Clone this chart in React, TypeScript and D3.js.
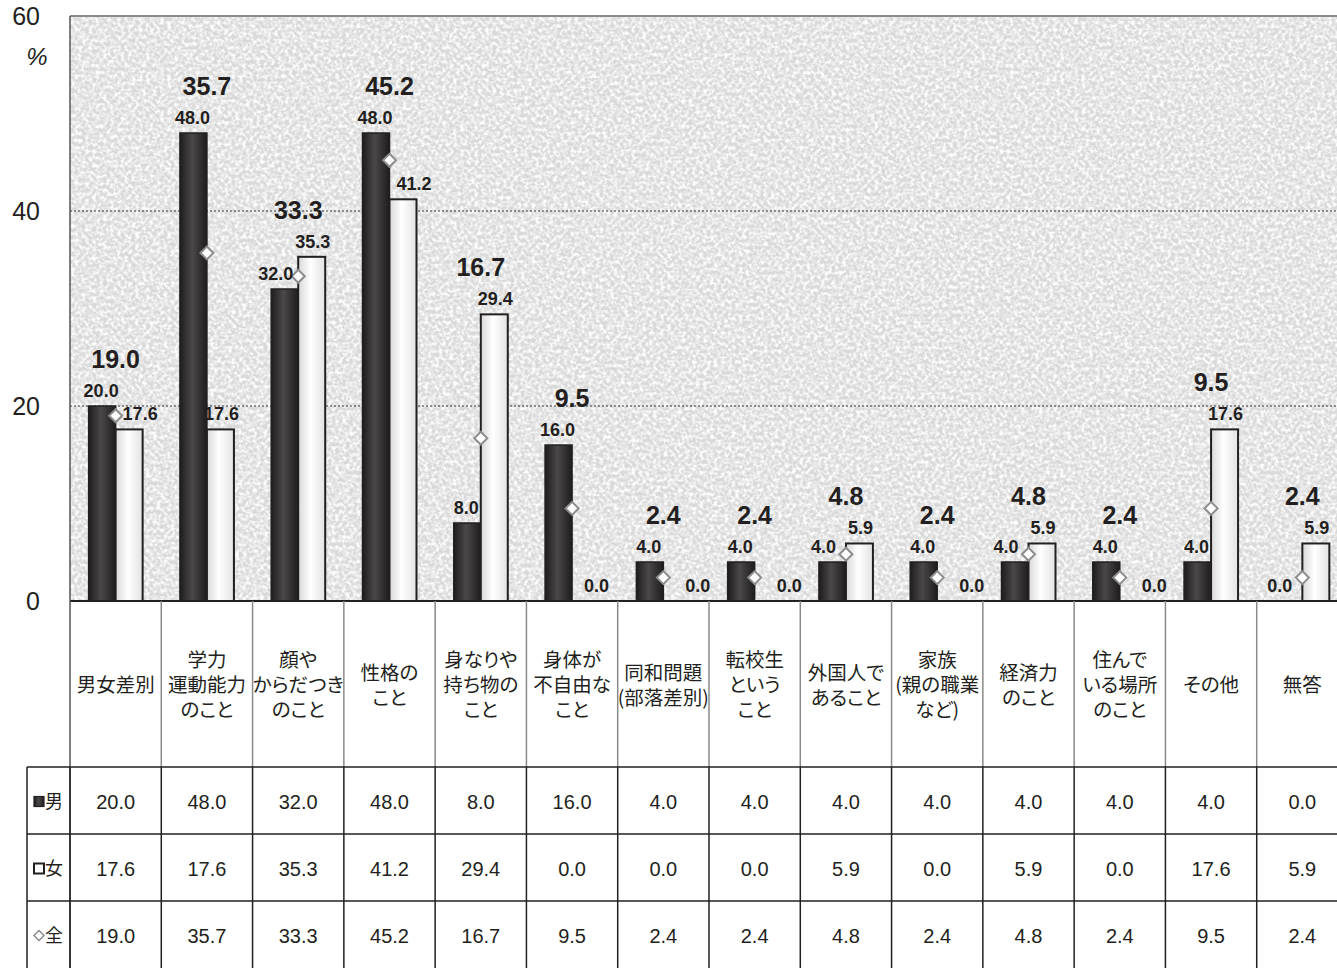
import React, { useEffect } from 'react';
import * as d3 from 'd3';

const categories = [
  '男女差別',
  '学力\n運動能力\nのこと',
  '顔や\nからだつき\nのこと',
  '性格の\nこと',
  '身なりや\n持ち物の\nこと',
  '身体が\n不自由な\nこと',
  '同和問題\n(部落差別)',
  '転校生\nという\nこと',
  '外国人で\nあること',
  '家族\n(親の職業\nなど)',
  '経済力\nのこと',
  '住んで\nいる場所\nのこと',
  'その他',
  '無答',
];
const maleValues = [20.0, 48.0, 32.0, 48.0, 8.0, 16.0, 4.0, 4.0, 4.0, 4.0, 4.0, 4.0, 4.0, 0.0];
const femaleValues = [17.6, 17.6, 35.3, 41.2, 29.4, 0.0, 0.0, 0.0, 5.9, 0.0, 5.9, 0.0, 17.6, 5.9];
const totalValues = [19.0, 35.7, 33.3, 45.2, 16.7, 9.5, 2.4, 2.4, 4.8, 2.4, 4.8, 2.4, 9.5, 2.4];
const seriesNames = ['男', '女', '全'];
const yTicks = [0, 20, 40, 60];
const gridTicks = [20, 40];

const W = 1337;
const H = 968;
const PL = 70;
const PR = 1348;
const PT = 16;
const PB = 601;
const HEADER_B = 767;
const ROW_H = 67;
const TABLE_L = 27;
const BAR_W = 27;

const fmt = d3.format('.1f');
const NUM_FONT = '"Liberation Sans", Arial, sans-serif';
const JP_FONT = '"Noto Sans CJK JP", "Noto Sans", sans-serif';

export default function App() {
  useEffect(() => {
    document.body.style.margin = '0';
    document.body.style.overflow = 'hidden';
  }, []);

  const idx = categories.map((_, i) => String(i));
  const x = d3.scaleBand<string>().domain(idx).range([PL, PR]).padding(0);
  const y = d3.scaleLinear().domain([0, 60]).range([PB, PT]);
  const step = x.bandwidth();
  const cx = (i: number) => (x(String(i)) as number) + step / 2;

  const diamond = (px: number, py: number, r: number) =>
    `M${px},${py - r}L${px + r},${py}L${px},${py + r}L${px - r},${py}Z`;

  const rowTops = [HEADER_B, HEADER_B + ROW_H, HEADER_B + ROW_H * 2];
  const rowValues = [maleValues, femaleValues, totalValues];

  return (
    <svg width={W} height={H} style={{ position: 'absolute', left: 0, top: 0, background: '#fff' }}>
      <defs>
        <filter id="noise" x="0" y="0" width="100%" height="100%">
          <feTurbulence type="fractalNoise" baseFrequency="0.28" numOctaves={2} seed={7} />
          <feColorMatrix type="matrix" values="0 0 0 0 1  0 0 0 0 1  0 0 0 0 1  2.6 0 0 0 -0.95" />
        </filter>
        <filter id="noise2" x="0" y="0" width="100%" height="100%">
          <feTurbulence type="fractalNoise" baseFrequency="0.4" numOctaves={1} seed={3} />
          <feColorMatrix type="matrix" values="0 0 0 0 0.6  0 0 0 0 0.6  0 0 0 0 0.6  2.0 0 0 0 -1.25" />
        </filter>
        <linearGradient id="darkBar" x1="0" x2="1" y1="0" y2="0">
          <stop offset="0" stopColor="#1f1c1d" />
          <stop offset="0.45" stopColor="#4a4848" />
          <stop offset="1" stopColor="#1f1c1d" />
        </linearGradient>
        <linearGradient id="lightBar" x1="0" x2="1" y1="0" y2="0">
          <stop offset="0" stopColor="#d8d8d8" />
          <stop offset="0.45" stopColor="#ffffff" />
          <stop offset="1" stopColor="#e2e2e2" />
        </linearGradient>
        <clipPath id="plotClip">
          <rect x={PL} y={PT} width={W - PL} height={PB - PT} />
        </clipPath>
      </defs>

      {/* plot background */}
      <rect x={PL} y={PT} width={W - PL} height={PB - PT} fill="#d9d9d9" />
      <rect x={PL} y={PT} width={W - PL} height={PB - PT} fill="#000" filter="url(#noise2)" />
      <rect x={PL} y={PT} width={W - PL} height={PB - PT} fill="#fff" filter="url(#noise)" />

      {/* grid */}
      {gridTicks.map((t) => (
        <line key={t} x1={PL} x2={W} y1={y(t)} y2={y(t)} stroke="#333" strokeWidth={1} strokeDasharray="2,2" />
      ))}
      <line x1={PL} x2={W} y1={PT} y2={PT} stroke="#8a8a8a" strokeWidth={2} />

      {/* y axis labels */}
      {yTicks.map((t) => (
        <text key={t} x={40} y={y(t)} dy="0.36em" textAnchor="end" fontFamily={NUM_FONT} fontSize={25} fill="#231f20">
          {t}
        </text>
      ))}
      <text x={37} y={56} dy="0.36em" textAnchor="middle" fontFamily={NUM_FONT} fontSize={24} fontStyle="italic" fill="#231f20">
        %
      </text>

      {/* bars */}
      <g clipPath="url(#plotClip)">
        {categories.map((_, i) => {
          const c = cx(i);
          const m = maleValues[i];
          const f = femaleValues[i];
          return (
            <g key={i}>
              {m > 0 && (
                <rect x={c - BAR_W} y={y(m)} width={BAR_W} height={PB - y(m)} fill="url(#darkBar)" stroke="#231f20" strokeWidth={1.5} />
              )}
              {f > 0 && (
                <rect x={c} y={y(f)} width={BAR_W} height={PB - y(f)} fill="url(#lightBar)" stroke="#231f20" strokeWidth={2} />
              )}
            </g>
          );
        })}
        {categories.map((_, i) => (
          <path key={'d' + i} d={diamond(cx(i), y(totalValues[i]), 6.5)} fill="#fff" stroke="#8c8c8c" strokeWidth={2} />
        ))}
      </g>

      {/* value labels */}
      {categories.map((_, i) => {
        const c = cx(i);
        const m = maleValues[i];
        const f = femaleValues[i];
        const t = totalValues[i];
        const mLabelY = y(m) - 9;
        const fLabelY = y(f) - 9;
        let mx = c - BAR_W / 2 - 1;
        if (f > m && f - m < 10) mx -= 8;
        let fx = c + BAR_W / 2 + 1;
        if (m > f && m - f < 10) fx += 10;
        if (f === 0) fx += 10;
        const topY = y(Math.max(m, f)) - 38;
        return (
          <g key={'l' + i} fontFamily={NUM_FONT} fontWeight="bold" fill="#231f20" textAnchor="middle">
            <text x={mx} y={mLabelY} fontSize={18}>{fmt(m)}</text>
            <text x={fx} y={fLabelY} fontSize={18}>{fmt(f)}</text>
            <text x={c} y={topY} fontSize={25}>{fmt(t)}</text>
          </g>
        );
      })}

      {/* baseline */}
      <line x1={PL} x2={W} y1={PB} y2={PB} stroke="#231f20" strokeWidth={2} />

      {/* table: header grid */}
      {categories.map((_, i) => {
        const bx = x(String(i)) as number;
        return i === 0 ? null : (
          <line key={'hv' + i} x1={bx} x2={bx} y1={PB} y2={HEADER_B} stroke="#8a8a8a" strokeWidth={1.5} />
        );
      })}
      <line x1={PL} x2={PL} y1={PT} y2={H} stroke="#555" strokeWidth={1.5} />

      {/* header labels */}
      {categories.map((cat, i) => {
        const lines = cat.split('\n');
        const lh = 25;
        const mid = 685;
        return (
          <text key={'h' + i} textAnchor="middle" fontFamily={JP_FONT} fontSize={19.5} fill="#231f20" style={{ fontFeatureSettings: '"palt"' }}>
            {lines.map((ln, k) => (
              <tspan key={k} x={cx(i)} y={mid + (k - (lines.length - 1) / 2) * lh} dy="0.36em">
                {ln}
              </tspan>
            ))}
          </text>
        );
      })}

      {/* table rows */}
      {rowTops.map((rt) => (
        <line key={'rh' + rt} x1={TABLE_L} x2={W} y1={rt} y2={rt} stroke="#231f20" strokeWidth={1.5} />
      ))}
      <line x1={TABLE_L} x2={TABLE_L} y1={HEADER_B} y2={H} stroke="#231f20" strokeWidth={1.5} />
      {categories.map((_, i) => {
        const bx = x(String(i)) as number;
        return i === 0 ? null : (
          <line key={'rv' + i} x1={bx} x2={bx} y1={HEADER_B} y2={H} stroke="#231f20" strokeWidth={1.5} />
        );
      })}
      <line x1={PL} x2={PL} y1={HEADER_B} y2={H} stroke="#231f20" strokeWidth={1.5} />

      {rowValues.map((vals, r) => (
        <g key={'row' + r}>
          {vals.map((v, i) => (
            <text key={i} x={cx(i)} y={rowTops[r] + ROW_H / 2 + 1} dy="0.36em" textAnchor="middle" fontFamily={NUM_FONT} fontSize={20} fill="#231f20">
              {fmt(v)}
            </text>
          ))}
        </g>
      ))}

      {/* legend column */}
      {seriesNames.map((nm, r) => {
        const my = rowTops[r] + ROW_H / 2 + 1;
        return (
          <g key={'lg' + r}>
            {r === 0 && <rect x={34} y={my - 5} width={10} height={10} fill="url(#darkBar)" stroke="#231f20" strokeWidth={1.2} />}
            {r === 1 && <rect x={34} y={my - 5} width={10} height={10} fill="#fff" stroke="#231f20" strokeWidth={2} />}
            {r === 2 && <path d={diamond(39, my, 5)} fill="#fff" stroke="#8c8c8c" strokeWidth={1.5} />}
            <text x={45} y={my} dy="0.36em" fontFamily={JP_FONT} fontSize={18} fill="#231f20">
              {nm}
            </text>
          </g>
        );
      })}
    </svg>
  );
}
